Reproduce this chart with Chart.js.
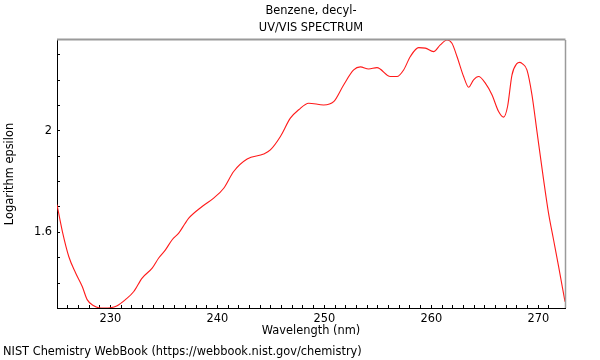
<!DOCTYPE html>
<html>
<head>
<meta charset="utf-8">
<script src="https://cdn.jsdelivr.net/npm/chart.js@4.4.0/dist/chart.umd.min.js"></script>
<style>
  body { margin: 0; background: #fff; }
  #uvvis { display: block; }
</style>
</head>
<body>
<canvas id="uvvis" width="600" height="360"></canvas>
<script>
// values
const wavelength = [225.0, 225.51, 226.10, 226.73, 227.36, 227.82, 228.44, 228.91, 229.45, 230.0,
    230.63, 231.40, 232.18, 232.96, 233.90, 234.51, 235.14, 235.77, 236.38, 236.94,
    237.32, 238.57, 239.65, 240.59, 241.52, 242.78, 244.33, 244.95, 245.89, 246.82,
    247.60, 248.53, 249.93, 250.87, 251.80, 252.74, 253.36, 254.14, 254.92, 256.17,
    256.79, 257.41, 258.04, 258.81, 259.44, 260.21, 260.84, 261.47, 261.93, 262.40,
    263.02, 263.49, 263.95, 264.42, 265.05, 265.67, 266.29, 266.76, 267.13, 267.54,
    268.0, 268.25, 268.5, 268.94, 269.41, 269.88, 270.50, 270.96, 271.43, 271.90, 272.5];
const logEpsilon = [1.709, 1.602, 1.505, 1.441, 1.387, 1.335, 1.311, 1.303, 1.302, 1.303,
    1.311, 1.335, 1.367, 1.420, 1.459, 1.499, 1.531, 1.571, 1.597, 1.633,
    1.656, 1.702, 1.735, 1.774, 1.840, 1.889, 1.909, 1.925, 1.978, 2.050,
    2.083, 2.109, 2.102, 2.115, 2.181, 2.240, 2.252, 2.244, 2.249, 2.214,
    2.214, 2.240, 2.293, 2.328, 2.326, 2.312, 2.339, 2.358, 2.345, 2.293,
    2.214, 2.172, 2.201, 2.214, 2.188, 2.142, 2.076, 2.054, 2.096, 2.220,
    2.265, 2.270, 2.265, 2.240, 2.142, 1.997, 1.807, 1.676, 1.571, 1.466, 1.327];
const xLabels = [230, 240, 250, 260, 270];
const yLabels = [1.6, 2];
const titleLines = ['Benzene, decyl-', 'UV/VIS SPECTRUM'];
const xTitle = 'Wavelength (nm)';
const yTitle = 'Logarithm epsilon';
const footer = 'NIST Chemistry WebBook (https://webbook.nist.gov/chemistry)';

const fam = "'DejaVu Sans', sans-serif";
const fs = 11.4;

function onStep(v, step) {
    const k = v / step;
    return Math.abs(k - Math.round(k)) < 1e-6;
}

function isLabel(list, v) {
    return list.some(l => Math.abs(l - v) < 1e-6);
}

const points = [];
for (let i = 0; i < wavelength.length; i++)
    points.push({ x: wavelength[i], y: logEpsilon[i] });

// gray top/right frame + the footer line
const frame = {
    id: 'frame',
    afterDraw(chart) {
        const ctx = chart.ctx;
        const a = chart.chartArea;
        ctx.save();
        ctx.strokeStyle = '#9a9a9a';
        ctx.lineWidth = 2;
        ctx.beginPath();
        ctx.moveTo(a.left, a.top - 0.5);
        ctx.lineTo(a.right + 0.5, a.top - 0.5);
        ctx.stroke();
        ctx.lineWidth = 1.5;
        ctx.beginPath();
        ctx.moveTo(a.right + 0.5, a.top);
        ctx.lineTo(a.right + 0.5, a.bottom);
        ctx.stroke();
        ctx.fillStyle = '#000';
        ctx.font = fs + 'px ' + fam;
        ctx.textBaseline = 'middle';
        ctx.textAlign = 'left';
        ctx.fillText(footer, 3, 352);
        ctx.restore();
    }
};

const config = {
    type: 'line',
    data: {
        datasets: [{
            label: 'Benzene, decyl-',
            data: points,
            borderColor: '#ff1a1a',
            borderWidth: 1.1,
            pointRadius: 0,
            fill: false,
            cubicInterpolationMode: 'monotone'
        }]
    },
    options: {
        responsive: false,
        devicePixelRatio: 1,
        animation: false,
        layout: { padding: { left: 0, right: 35, top: 0, bottom: 22 } },
        plugins: {
            legend: { display: false },
            tooltip: { enabled: false },
            title: {
                display: true,
                text: titleLines,
                fullSize: false,
                color: '#000',
                font: { family: fam, size: fs, weight: 'normal', lineHeight: 17 / fs },
                padding: { top: 3, bottom: 3 }
            }
        },
        scales: {
            x: {
                type: 'linear',
                min: 225,
                max: 272.5,
                afterBuildTicks: s => { s.ticks = s.ticks.filter(t => onStep(t.value, 1)); },
                afterFit: s => { s.height = 30; },
                border: { color: '#000', width: 1 },
                grid: { drawOnChartArea: false, tickLength: -3, tickColor: '#000' },
                ticks: {
                    stepSize: 1,
                    autoSkip: false,
                    maxRotation: 0,
                    padding: 7.2,
                    color: '#000',
                    font: { family: fam, size: fs },
                    callback: v => isLabel(xLabels, v) ? String(Math.round(v)) : ''
                },
                title: {
                    display: true,
                    text: xTitle,
                    color: '#000',
                    font: { family: fam, size: fs },
                    padding: { top: 0, bottom: 0 }
                }
            },
            y: {
                type: 'linear',
                min: 1.302,
                max: 2.358,
                afterBuildTicks: s => { s.ticks = s.ticks.filter(t => onStep(t.value, 0.1)); },
                afterFit: s => { s.width = 57; },
                border: { color: '#000', width: 1 },
                grid: { drawOnChartArea: false, tickLength: -3, tickColor: '#000' },
                ticks: {
                    stepSize: 0.1,
                    autoSkip: false,
                    padding: 8,
                    color: '#000',
                    font: { family: fam, size: fs },
                    callback: v => isLabel(yLabels, v) ? String(Math.round(v * 10) / 10) : ''
                },
                title: {
                    display: true,
                    text: yTitle,
                    color: '#000',
                    font: { family: fam, size: fs },
                    padding: { top: 3.5, bottom: 0 }
                }
            }
        }
    },
    plugins: [frame]
};

let ctx = document.getElementById('uvvis').getContext('2d');
new Chart(ctx, config);
</script>
</body>
</html>
